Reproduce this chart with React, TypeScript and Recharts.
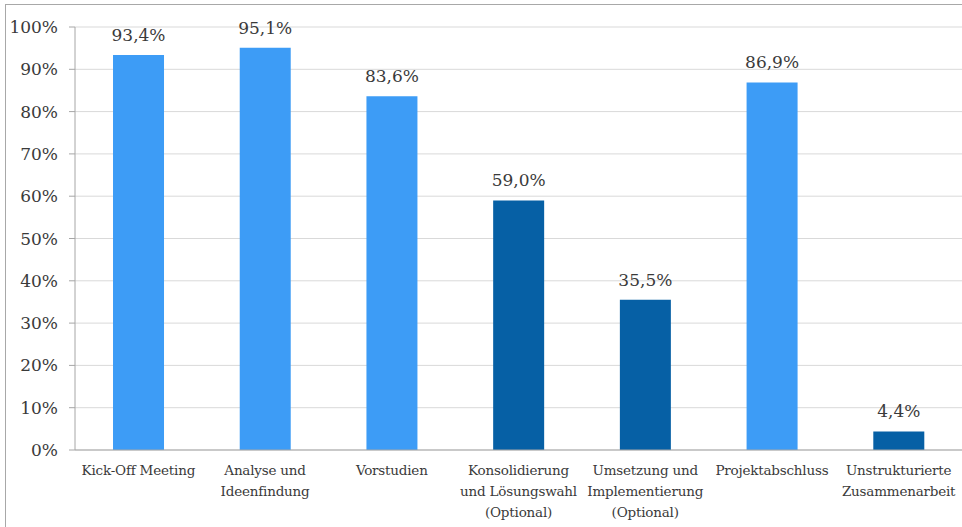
import React from 'react';
import { BarChart, Bar, XAxis, YAxis, CartesianGrid, LabelList, Cell } from 'recharts';

const categories: string[][] = [
  ['Kick-Off Meeting'],
  ['Analyse und', 'Ideenfindung'],
  ['Vorstudien'],
  ['Konsolidierung', 'und Lösungswahl', '(Optional)'],
  ['Umsetzung und', 'Implementierung', '(Optional)'],
  ['Projektabschluss'],
  ['Unstrukturierte', 'Zusammenarbeit'],
];
const values = [93.4, 95.1, 83.6, 59.0, 35.5, 86.9, 4.4];
const optionalPhase = [false, false, false, true, true, false, true];
const yTicks = [0, 10, 20, 30, 40, 50, 60, 70, 80, 90, 100];
const edgeTicks = [0, 1, 2, 3, 4, 5, 6, 7];

const LIGHT = '#3d9cf6';
const DARK = '#0660a5';
const TEXT = '#3a3a3a';
const FONT = "'DejaVu Serif', serif";

const data = categories.map((c, i) => ({ name: c.join('\n'), value: values[i], opt: optionalPhase[i] }));

const CatTick = (props: any) => {
  const { x, y, payload } = props;
  const lines = String(payload.value).split('\n');
  return (
    <text x={x} y={y} textAnchor="middle" fill={TEXT} style={{ fontFamily: FONT, fontSize: 13.5, letterSpacing: -0.2 }}>
      {lines.map((l, i) => (
        <tspan key={i} x={x} dy={i === 0 ? 25 : 21}>{l}</tspan>
      ))}
    </text>
  );
};

const fmt = (v: any) => Number(v).toFixed(1).replace('.', ',') + '%';

export default function App() {
  return (
    <div style={{ position: 'absolute', left: 0, top: 0, width: 962, height: 527, background: '#fff', overflow: 'hidden', fontFamily: FONT }}>
      <div style={{ position: 'absolute', left: 5, top: 4, width: 1000, height: 600, borderLeft: '1.5px solid #a8a8a8', borderTop: '1.5px solid #a8a8a8' }} />
      <div style={{ position: 'absolute', left: 0, top: 0 }}>
        <BarChart width={962} height={527} data={data} margin={{ top: 27, right: 0, bottom: 0, left: 0 }} barCategoryGap="30%" style={{ fontFamily: FONT }}>
          <CartesianGrid vertical={false} stroke="#d9d9d9" />
          <XAxis
            xAxisId="edges"
            type="number"
            dataKey="value"
            domain={[0, 7]}
            ticks={edgeTicks}
            tick={false}
            axisLine={false}
            tickLine={{ stroke: '#a6a6a6' }}
            tickSize={5}
            height={0}
            allowDataOverflow
          />
          <XAxis
            dataKey="name"
            interval={0}
            tick={<CatTick />}
            tickLine={false}
            tickSize={0}
            tickMargin={0}
            axisLine={{ stroke: '#a6a6a6' }}
            height={77}
          />
          <YAxis
            domain={[0, 100]}
            ticks={yTicks}
            tickFormatter={(v) => `${v}%`}
            width={75}
            axisLine={{ stroke: '#a6a6a6' }}
            tickLine={{ stroke: '#a6a6a6' }}
            tickSize={6}
            tickMargin={11}
            tick={{ fill: TEXT, fontSize: 17, style: { fontFamily: FONT } }}
          />
          <Bar dataKey="value" isAnimationActive={false}>
            {data.map((d, i) => (
              <Cell key={i} fill={d.opt ? DARK : LIGHT} />
            ))}
            <LabelList dataKey="value" position="top" offset={14} formatter={fmt} fill={TEXT} fontSize={17} style={{ fontFamily: FONT }} />
          </Bar>
        </BarChart>
      </div>
    </div>
  );
}
